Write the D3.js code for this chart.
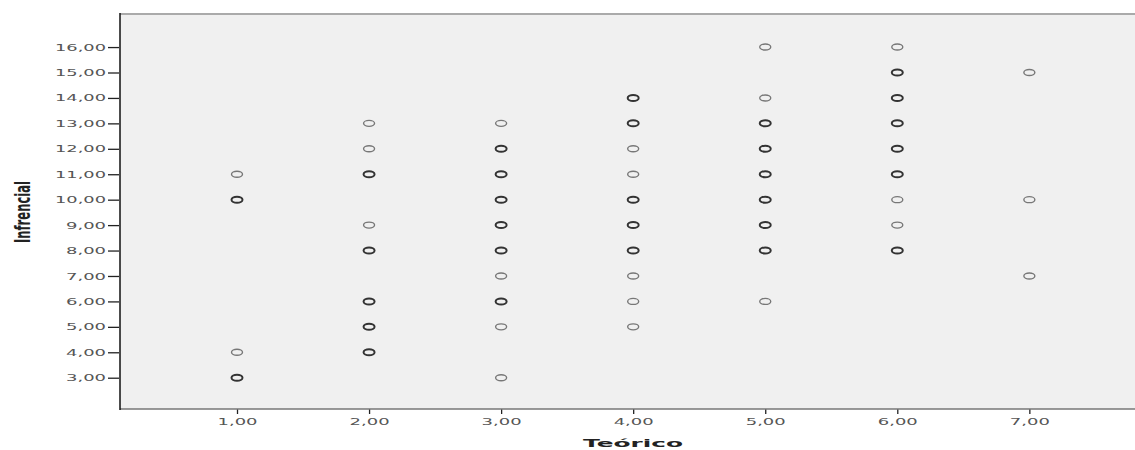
<!DOCTYPE html>
<html><head><meta charset="utf-8">
<script src="https://cdn.jsdelivr.net/npm/d3@7"></script>
<style>body{margin:0;background:#fff}svg{display:block}</style>
</head><body><svg id="c" width="1135" height="450"></svg>
<script>
const xTicks = [1,2,3,4,5,6,7];
const yTicks = [3,4,5,6,7,8,9,10,11,12,13,14,15,16];
const teorico    = [1,1,1,1, 2,2,2,2,2,2,2,2, 3,3,3,3,3,3,3,3,3,3, 4,4,4,4,4,4,4,4,4,4, 5,5,5,5,5,5,5,5,5, 6,6,6,6,6,6,6,6,6, 7,7,7];
const infrencial = [11,10,4,3, 13,12,11,9,8,6,5,4, 13,12,11,10,9,8,7,6,5,3, 14,13,12,11,10,9,8,7,6,5, 16,14,13,12,11,10,9,8,6, 16,15,14,13,12,11,10,9,8, 15,10,7];
const counts     = [1,2,1,2, 1,1,2,1,2,2,2,2, 1,2,2,2,2,2,1,2,1,1, 2,2,1,1,2,2,2,1,1,1, 1,1,2,2,2,2,2,2,1, 1,2,2,2,2,2,1,1,2, 1,1,1];

const svg = d3.select("#c");
const L = 120, T = 14, R = 1135, B = 409;
const x = d3.scaleLinear().domain([0.114, 7.8]).range([L, R]);
const y = d3.scaleLinear().domain([1.77, 17.3]).range([B, T]);

svg.append("rect").attr("x", L).attr("y", T).attr("width", R - L).attr("height", B - T).attr("fill", "#f0f0f0");
svg.append("line").attr("x1", L).attr("x2", R).attr("y1", T).attr("y2", T).attr("stroke", "#aaa").attr("stroke-width", 2);

const tickFont = "'DejaVu Sans', sans-serif";
const fmt = d => d3.format(".2f")(d).replace(".", ",");
const styleTicks = sel => sel.attr("font-family", tickFont).attr("font-size", 9.5).attr("fill", "#555")
  .attr("lengthAdjust", "spacingAndGlyphs").attr("textLength", function() { return this.textContent.length * 11 - 4; });

const yAxis = svg.append("g").attr("transform", `translate(${L},0)`)
  .call(d3.axisLeft(y).tickValues(yTicks).tickSize(12).tickPadding(2).tickFormat(fmt));
yAxis.select(".domain").remove();
yAxis.selectAll(".tick line").attr("stroke", "#222").attr("stroke-width", 1.3).attr("x2", -12).attr("x1", -1);
styleTicks(yAxis.selectAll("text"));

const xAxis = svg.append("g").attr("transform", `translate(0,${B})`)
  .call(d3.axisBottom(x).tickValues(xTicks).tickSize(5).tickPadding(4).tickFormat(fmt));
xAxis.select(".domain").remove();
xAxis.selectAll(".tick line").attr("stroke", "#222").attr("stroke-width", 1.3);
styleTicks(xAxis.selectAll("text"));

svg.append("line").attr("x1", L).attr("x2", R).attr("y1", B).attr("y2", B).attr("stroke", "#777").attr("stroke-width", 1.5);
svg.append("line").attr("x1", L).attr("x2", L).attr("y1", T - 1).attr("y2", B + 1).attr("stroke", "#111").attr("stroke-width", 1.5);

svg.append("g").selectAll("ellipse").data(teorico.map((t, i) => ({t, v: infrencial[i], c: counts[i]})))
  .join("ellipse")
  .attr("cx", d => x(d.t)).attr("cy", d => y(d.v))
  .attr("rx", 5.5).attr("ry", 3)
  .attr("fill", "none")
  .attr("stroke", d => d.c > 1 ? "#333" : "#777")
  .attr("stroke-width", d => d.c > 1 ? 2 : 1.4);

svg.append("text").attr("transform", `translate(24,212) rotate(-90)`)
  .attr("text-anchor", "middle").attr("dominant-baseline", "middle")
  .attr("font-family", "'Liberation Sans Narrow', 'DejaVu Sans Condensed', sans-serif")
  .attr("font-weight", "bold").attr("font-size", 22).attr("fill", "#222")
  .attr("lengthAdjust", "spacingAndGlyphs").attr("textLength", 62).text("Infrencial");
svg.append("text").attr("x", 633).attr("y", 447)
  .attr("text-anchor", "middle").attr("font-family", "'DejaVu Sans', sans-serif")
  .attr("font-weight", "bold").attr("font-size", 10.5).attr("fill", "#222")
  .attr("lengthAdjust", "spacingAndGlyphs").attr("textLength", 100).text("Teórico");
</script></body></html>
